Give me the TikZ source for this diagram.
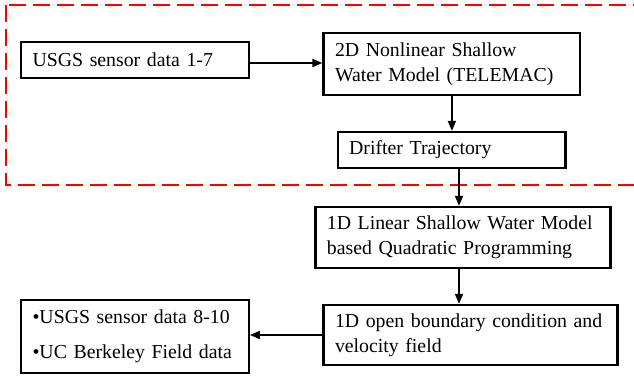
\documentclass[tikz,border=0pt]{standalone}
\usepackage{fontspec}
\setmainfont{Liberation Serif}
\usetikzlibrary{arrows.meta}
\begin{document}
\begin{tikzpicture}[x=1pt,y=-1pt,
  box/.style={draw=black,line width=2.3pt,rectangle,inner xsep=11.5pt,inner ysep=0pt,align=left,
    font=\fontsize{19.8}{25}\selectfont},
  arr/.style={line width=1.7pt,-{Triangle[length=10pt,width=8pt]}},
  redbox/.style={draw=red,line width=2pt,dash pattern=on 17pt off 7pt}]
\useasboundingbox (0,0) rectangle (634,379);
\begin{scope}
\clip (0,0) rectangle (634,379);
\draw[redbox] (6,5) rectangle (652,185);
\end{scope}
\node[box,minimum width=227.7pt,minimum height=36pt,text width=204.7pt] (b1) at (134.9,60) {USGS sensor data 1-7};
\node[box,minimum width=256.8pt,minimum height=62pt,text width=233.8pt] (b2) at (451.9,64) {2D Nonlinear Shallow\\Water Model (TELEMAC)};
\node[box,minimum width=227.7pt,minimum height=36pt,text width=204.7pt] (b3) at (451.5,150) {Drifter Trajectory};
\node[box,minimum width=295.2pt,minimum height=61pt,text width=272.2pt] (b4) at (463,237.5) {1D Linear Shallow Water Model\\based Quadratic Programming};
\node[box,minimum width=294pt,minimum height=60pt,text width=271pt] (b5) at (470.5,335) {1D open boundary condition and\\velocity field};
\node[box,minimum width=227.7pt,minimum height=73pt,text width=204.7pt] (b6) at (134.9,336.5) {•USGS sensor data 8-10\\[10pt]•UC Berkeley Field data};
\draw[arr] ([yshift=-3pt]b1.east) -- ([yshift=-3pt]b1.east -| b2.west);
\draw[arr] (b2.south) -- (b2.south |- b3.north);
\draw[arr] ([xshift=7.5pt]b3.south) -- ([xshift=7.5pt]b3.south |- b4.north);
\draw[arr] ([xshift=-4pt]b4.south) -- ([xshift=-4pt]b4.south |- b5.north);
\draw[arr] (b5.west) -- (b5.west -| b6.east);
\end{tikzpicture}
\end{document}
